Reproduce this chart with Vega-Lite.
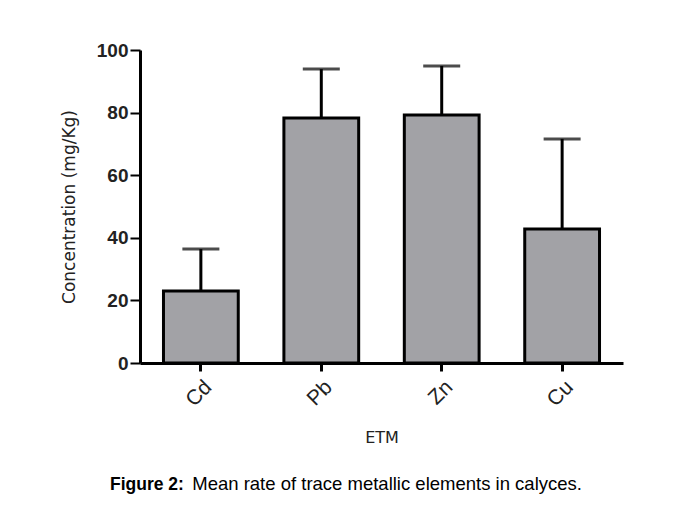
{
  "$schema": "https://vega.github.io/schema/vega-lite/v6.json",
  "width": 483,
  "height": 313,
  "autosize": {"type": "none"},
  "padding": {"left": 140, "top": 50, "right": 58, "bottom": 144},
  "background": "white",
  "data": {
    "values": [
      {"metal": "Cd", "mean": 23.0, "upper": 36.4},
      {"metal": "Pb", "mean": 78.3, "upper": 93.9},
      {"metal": "Zn", "mean": 79.2, "upper": 94.9},
      {"metal": "Cu", "mean": 42.8, "upper": 71.6}
    ]
  },
  "title": {
    "text": "Figure 2:",
    "subtitle": "\u200b\u00a0\u00a0\u00a0\u00a0\u00a0\u00a0\u00a0\u00a0\u00a0\u00a0\u00a0\u00a0\u00a0\u00a0\u00a0 Mean rate of trace metallic elements in calyces.",
    "orient": "bottom",
    "anchor": "start",
    "frame": "group",
    "dx": -30,
    "offset": 30,
    "font": "Liberation Sans",
    "fontSize": 17.5,
    "fontWeight": "bold",
    "color": "#000000",
    "subtitleFont": "Liberation Sans",
    "subtitleFontSize": 18.5,
    "subtitleFontWeight": "normal",
    "subtitleColor": "#000000",
    "subtitlePadding": -18
  },
  "encoding": {
    "x": {
      "field": "metal",
      "type": "nominal",
      "sort": null,
      "scale": {"paddingInner": 0.379, "paddingOuter": 0.195},
      "axis": {
        "title": "ETM",
        "titleFont": "DejaVu Sans",
        "titleFontSize": 16,
        "titleFontWeight": "normal",
        "titleColor": "#222222",
        "titlePadding": 20,
        "labelAngle": -45,
        "labelFont": "Liberation Sans",
        "labelFontSize": 21,
        "labelColor": "#222222",
        "labelPadding": 5,
        "tickSize": 8,
        "tickWidth": 3,
        "tickColor": "#000000",
        "domainColor": "#000000",
        "domainWidth": 3
      }
    }
  },
  "layer": [
    {
      "mark": {"type": "rule", "color": "#000000", "strokeWidth": 3},
      "encoding": {
        "y": {"field": "mean", "type": "quantitative"},
        "y2": {"field": "upper"}
      }
    },
    {
      "mark": {"type": "tick", "color": "#000000", "thickness": 3, "size": 37},
      "encoding": {
        "y": {"field": "upper", "type": "quantitative"}
      }
    },
    {
      "mark": {"type": "bar", "fill": "#a2a2a6", "stroke": "#000000", "strokeWidth": 3},
      "encoding": {
        "y": {
          "field": "mean",
          "type": "quantitative",
          "scale": {"domain": [0, 100], "nice": false},
          "axis": {
            "title": "Concentration (mg/Kg)",
            "titleFont": "DejaVu Sans",
            "titleFontSize": 17,
            "titleFontWeight": "normal",
            "titleColor": "#222222",
            "titlePadding": 18,
            "values": [0, 20, 40, 60, 80, 100],
            "labelFont": "Liberation Sans",
            "labelFontSize": 19,
            "labelFontWeight": "bold",
            "labelColor": "#222222",
            "labelPadding": 2,
            "tickSize": 10,
            "tickWidth": 2,
            "tickColor": "#000000",
            "domainColor": "#000000",
            "domainWidth": 3,
            "grid": false
          }
        }
      }
    }
  ],
  "config": {
    "view": {"stroke": null}
  }
}
